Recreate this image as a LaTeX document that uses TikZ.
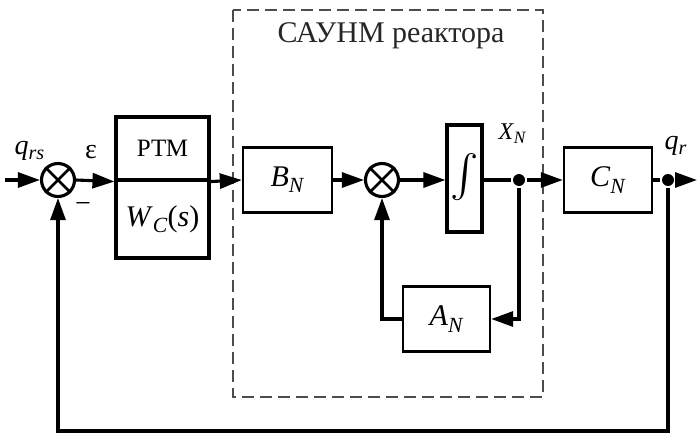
\documentclass[tikz,border=0pt]{standalone}
\usepackage{fontspec}
\setmainfont{Liberation Serif}
\usepackage{graphicx}
\usetikzlibrary{arrows.meta}
\newcommand\isub[2]{\textit{#1}\raisebox{-0.45ex}{\scalebox{0.72}{\textit{#2}}}}
\begin{document}
\begin{tikzpicture}[x=1pt,y=-1pt,
  line width=3.1pt,
  >={Triangle[length=22pt,width=15pt]},
  blk/.style={draw, line width=3.1pt, inner sep=0pt, font=\fontsize{30}{31}\selectfont},
  thinblk/.style={blk, line width=2.4pt},
  sumn/.style={draw, circle, line width=3.1pt, minimum size=33pt, inner sep=0pt},
  dotn/.style={fill, circle, minimum size=12pt, inner sep=0pt},
  lbl/.style={inner sep=0pt, font=\fontsize{28}{29}\selectfont},
  dashbox/.style={draw=black!70, line width=1.9pt, dash pattern=on 12pt off 6pt}
]
\useasboundingbox (0,0) rectangle (697,434);
% dashed reactor box
\draw[dashbox] (233,10) rectangle (543,397);
\node[inner sep=0pt, font=\fontsize{30}{31}\selectfont, text=black!85] (title) at (391,36) {САУНМ реактора};
% blocks
\node[sumn] (s1) at (58,180) {};
\draw[line width=2.8pt] (s1.north west) -- (s1.south east) (s1.north east) -- (s1.south west);
\node[blk, minimum width=93pt, minimum height=63pt, font=\fontsize{25}{26}\selectfont] (ptmtop) at (162.5,148.5) {РТМ};
\node[blk, minimum width=93pt, minimum height=78pt] (ptmbot) at (162.5,219) {\isub{W}{C}(\textit{s})};
\node[thinblk, minimum width=89pt, minimum height=65pt] (bn) at (287.5,180) {\isub{B}{N}};
\node[sumn] (s2) at (382,180) {};
\draw[line width=2.8pt] (s2.north west) -- (s2.south east) (s2.north east) -- (s2.south west);
\node[blk, minimum width=35pt, minimum height=107pt] (int) at (464.5,178.5) {\resizebox{!}{50pt}{$\int$}};
\node[dotn] (d1) at (519,180) {};
\node[thinblk, minimum width=88pt, minimum height=65pt] (cn) at (608,180) {\isub{C}{N}};
\node[dotn] (d2) at (668,180) {};
\node[thinblk, minimum width=87pt, minimum height=65pt] (an) at (446.5,319) {\isub{A}{N}};
% labels
\node[lbl, anchor=base west] (lqrs) at (13,154) {\isub{q}{rs}};
\node[lbl, anchor=base] (leps) at (91,158) {ε};
\node[lbl] (lminus) at (83,208) {−};
\node[lbl, anchor=base west, font=\fontsize{24}{25}\selectfont] (lxn) at (497,139) {\isub{X}{N}};
\node[lbl, anchor=base west] (lqr) at (663,149) {\isub{q}{r}};
% coordinates
\coordinate (in) at (5,180);
\coordinate (out) at (697,180);
\coordinate (fbr) at (668,431);
% connectors
\draw[->] (in) -- (s1.west);
\draw[->] (s1.east) -- (ptmtop.south west);
\draw[->] (ptmtop.south east) -- (bn.west);
\draw[->] (bn.east) -- (s2.west);
\draw[->] (s2.east) -- (int.west |- s2.east);
\draw (int.east |- d1) -- (d1);
\draw[->] (d1) -- (cn.west);
\draw (cn.east) -- (d2);
\draw[->] (d2) -- (out);
\draw[->] (d1) |- (an.east);
\draw[->] (an.west) -| (s2.south);
\draw[->] (d2) -- (fbr) -| (s1.south);
\end{tikzpicture}
\end{document}
